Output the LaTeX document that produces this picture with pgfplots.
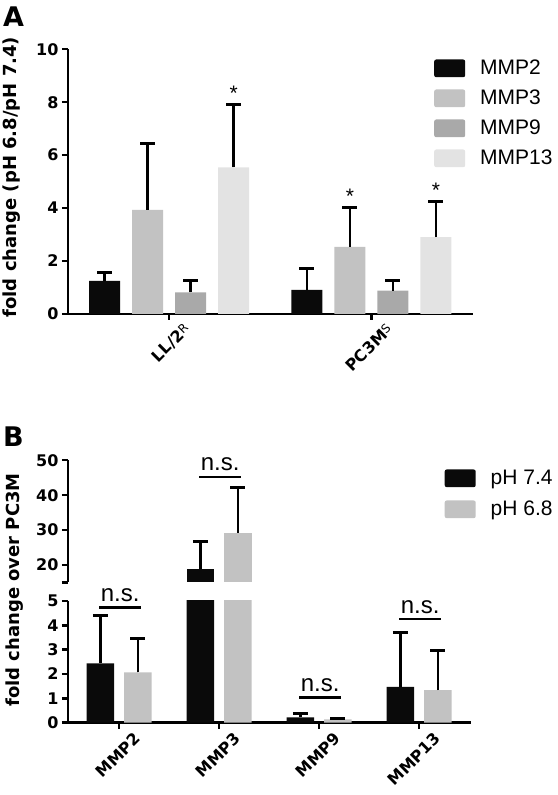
\documentclass[border=0pt]{standalone}
\usepackage{pgfplots}
\pgfplotsset{compat=1.18}
\usepackage{pgfplotstable}
\usepackage{fontspec}
\setmainfont{Liberation Sans}
\newfontfamily\dejavu{DejaVu Sans}
\newcommand\tickfont{\dejavu\bfseries\fontsize{16}{18}\selectfont}
\newcommand\labfont{\dejavu\bfseries\fontsize{18}{20}\selectfont}
\definecolor{c2}{HTML}{0A0A0A}
\definecolor{c3}{HTML}{C2C2C2}
\definecolor{c9}{HTML}{A9A9A9}
\definecolor{c13}{HTML}{E3E3E3}

\pgfplotstableread{
x mmp2 e2 mmp3 e3 mmp9 e9 mmp13 e13
0 1.25 0.32 3.93 2.52 0.82 0.46 5.54 2.38
1 0.91 0.82 2.54 1.49 0.88 0.40 2.90 1.34
}\tabA

\pgfplotstableread{
x p74 e74 p68 e68
0 2.44 1.96 2.07 1.40
1 18.9 7.8 29.2 13.0
2 0.22 0.17 0.14 0.04
3 1.47 2.25 1.34 1.62
}\tabB

\pgfplotsset{
  boxlegend/.style={legend image code/.code={\fill[##1, rounded corners=2pt] (0pt,-8.85pt) rectangle (31pt,8.85pt);}},
  panel/.style={
    scale only axis,
    enlargelimits=false,
    clip mode=individual,
    axis line style={line width=2.4pt, black},
    major tick length=6pt,
    tick style={line width=2.4pt, black},
    tick align=outside,
    ticklabel style={font=\tickfont},
    /pgf/number format/assume math mode=true,
    label style={font=\labfont},
    error bars/y dir=plus,
    error bars/y explicit,
    error bars/error bar style={line width=2.6pt, black},
    error bars/error mark options={rotate=90, mark size=7.5pt, line width=3.2pt, black},
    legend cell align=left,
  },
}

\begin{document}
\begin{tikzpicture}
\useasboundingbox (0,0) rectangle (557pt,795pt);

% Panel letters
\node[anchor=base west, inner sep=0pt, font=\dejavu\bfseries\fontsize{27}{27}\selectfont] at (3pt,768.3pt) {A};
\node[anchor=base west, inner sep=0pt, font=\dejavu\bfseries\fontsize{27}{27}\selectfont] at (3pt,348.3pt) {B};

% ---------------- Panel A ----------------
\begin{axis}[panel,
  at={(68pt,481pt)}, anchor=south west,
  width=404.5pt, height=264.7pt,
  axis x line*=bottom, axis y line*=left,
  xmin=-0.5, xmax=1.5, ymin=0, ymax=10,
  ytick={0,2,...,10},
  xtick={0,1},
  xticklabels={{LL/2\raisebox{3pt}{\mdseries\fontsize{12}{12}\selectfont R}},{PC3M\raisebox{3pt}{\mdseries\fontsize{12}{12}\selectfont S}}},
  xticklabel style={rotate=45, anchor=east, inner sep=0pt, xshift=8pt, yshift=-18pt},
  ylabel={fold change (pH 6.8/pH 7.4)},
  ylabel style={at={(axis description cs:-0.139,0.517)}, anchor=center},
  ybar=12pt, bar width=31pt,
  boxlegend,
  every axis plot post/.append style={boxlegend},
  legend style={draw=none, fill=none, at={(0.9048,0.9622)}, anchor=north west,
    inner sep=0pt, row sep=12.3pt, column sep=15pt,
    font=\fontsize{21}{21}\selectfont, nodes={inner sep=0pt}},
]
\addplot[fill=c2, draw=none] table[x=x, y=mmp2, y error=e2] {\tabA};
\addplot[fill=c3, draw=none] table[x=x, y=mmp3, y error=e3] {\tabA};
\addplot[fill=c9, draw=none] table[x=x, y=mmp9, y error=e9] {\tabA};
\addplot[fill=c13, draw=none] table[x=x, y=mmp13, y error=e13] {\tabA};
\legend{MMP2,MMP3,MMP9,MMP13}
\node[anchor=base, font=\fontsize{21}{21}\selectfont] at (axis cs:0,7.92) [xshift=64.5pt, yshift=3.8pt] {*};
\node[anchor=base, font=\fontsize{21}{21}\selectfont] at (axis cs:1,4.03) [xshift=-21.5pt, yshift=3.8pt] {*};
\node[anchor=base, font=\fontsize{21}{21}\selectfont] at (axis cs:1,4.24) [xshift=64.5pt, yshift=3.8pt] {*};
\end{axis}

% ---------------- Panel B upper ----------------
\begin{axis}[panel,
  at={(68pt,212.5pt)}, anchor=south west,
  width=402.7pt, height=122.2pt,
  axis x line=none, axis y line*=left,
  xmin=-0.511, xmax=3.515, ymin=15, ymax=50,
  restrict y to domain=15:50,
  ytick={15,20,30,40,50}, yticklabels={,20,30,40,50},
  xtick=\empty,
  ybar=10pt, bar width=27.5pt,
  boxlegend,
  every axis plot post/.append style={boxlegend},
  legend style={draw=none, fill=none, at={(0.935,0.9264)}, anchor=north west,
    inner sep=0pt, row sep=13.3pt, column sep=15pt,
    font=\fontsize{21}{21}\selectfont, nodes={inner sep=0pt}},
]
\addplot[fill=c2, draw=none] table[x=x, y=p74, y error=e74] {\tabB};
\addplot[fill=c3, draw=none] table[x=x, y=p68, y error=e68] {\tabB};
\legend{pH 7.4,pH 6.8}
\draw[line width=2.4pt] (axis cs:0.8,45.3) -- (axis cs:1.22,45.3);
\node[anchor=base, font=\fontsize{24}{24}\selectfont] at (axis cs:1.01,45.3) [yshift=6pt] {n.s.};
\end{axis}

% ---------------- Panel B lower ----------------
\begin{axis}[panel,
  at={(68pt,72.3pt)}, anchor=south west,
  width=402.7pt, height=121.7pt,
  axis x line*=bottom, axis y line*=left,
  xmin=-0.511, xmax=3.515, ymin=0, ymax=5,
  ytick={0,1,...,5},
  xtick={0,1,2,3},
  xticklabels={MMP2,MMP3,MMP9,MMP13},
  xticklabel style={rotate=45, anchor=east, inner sep=0pt, xshift=8pt, yshift=-18pt},
  ylabel={fold change over PC3M},
  ylabel style={at={(axis description cs:-0.1316,1.0904)}, anchor=center},
  ybar=10pt, bar width=27.5pt,
]
\addplot[fill=c2, draw=none] table[x=x, y=p74, y error=e74] {\tabB};
\addplot[fill=c3, draw=none] table[x=x, y=p68, y error=e68] {\tabB};
\draw[line width=2.4pt] (axis cs:-0.2,4.73) -- (axis cs:0.22,4.73);
\node[anchor=base, font=\fontsize{24}{24}\selectfont] at (axis cs:0.01,4.73) [yshift=6pt] {n.s.};
\draw[line width=2.4pt] (axis cs:1.8,1.04) -- (axis cs:2.22,1.04);
\node[anchor=base, font=\fontsize{24}{24}\selectfont] at (axis cs:2.01,1.04) [yshift=6pt] {n.s.};
\draw[line width=2.4pt] (axis cs:2.8,4.26) -- (axis cs:3.22,4.26);
\node[anchor=base, font=\fontsize{24}{24}\selectfont] at (axis cs:3.01,4.26) [yshift=6pt] {n.s.};
\end{axis}
\end{tikzpicture}
\end{document}
